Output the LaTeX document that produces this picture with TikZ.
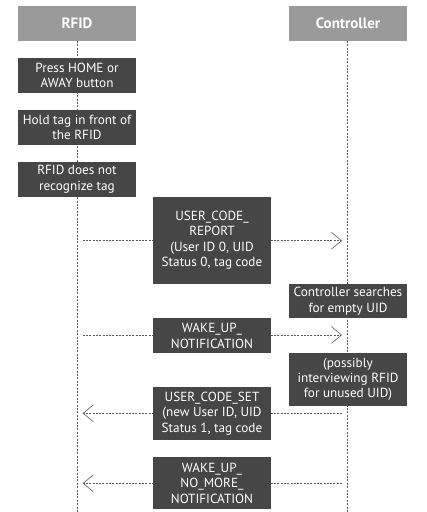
\documentclass[tikz,border=0pt]{standalone}
\usepackage{fontspec}
\setmainfont{PT Sans}
\usetikzlibrary{arrows.meta,positioning}

\definecolor{headgray}{HTML}{9A9A9A}
\definecolor{boxgray}{HTML}{464646}
\definecolor{linegray}{HTML}{5A5A5A}

\begin{document}
\begin{tikzpicture}[x=1pt,y=-1pt,
    head/.style={fill=headgray,text=white,minimum width=118pt,minimum height=34.7pt,
                 inner sep=0pt,font=\fontsize{15}{16}\selectfont\bfseries},
    act/.style={fill=boxgray,text=white,minimum width=118pt,inner sep=0pt,
                align=center,font=\fontsize{13.2}{15.4}\selectfont},
    life/.style={draw=linegray,line width=0.6pt,dash pattern=on 2pt off 1.4pt},
    msg/.style={draw=linegray,line width=0.6pt,dash pattern=on 2pt off 1.3pt,
                -{Straight Barb[length=10pt,width=16.6pt,line width=0.6pt,line cap=butt]}}]

  \useasboundingbox (0,0) rectangle (427,512);

  % lanes
  \node[head] (rfid) at (77,23.3)  {RFID};
  \node[head] (ctrl) at (348,23.3) {Controller};
  \coordinate (rfidend) at (77.3,512);
  \coordinate (ctrlend) at (347.3,512);
  \draw[life] (rfid.south -| rfidend) -- (rfidend);
  \draw[life] (ctrl.south -| ctrlend) -- (ctrlend);

  % messages
  \coordinate (r1) at (82.7,240.7);  \coordinate (c1) at (342,240.7);
  \coordinate (r2) at (82.7,335);    \coordinate (c2) at (342,335);
  \coordinate (r3) at (82.7,413.3);  \coordinate (c3) at (342,413.3);
  \coordinate (r4) at (82.7,483.3);  \coordinate (c4) at (342,483.3);
  \path (r1) edge[msg] (c1)
        (r2) edge[msg] (c2)
        (c3) edge[msg] (r3)
        (c4) edge[msg] (r4);

  % boxes
  \node[act,minimum height=34.7pt] (press)  at (77,75.3)   {Press HOME or\\AWAY button};
  \node[act,minimum height=34.7pt] (hold)   at (77,127.3)  {Hold tag in front of\\the RFID};
  \node[act,minimum height=34.7pt] (norec)  at (77,179.3)  {RFID does not\\recognize tag};
  \node[act,minimum height=86.7pt] (report) at (212,240.3) {USER\_CODE\_\\REPORT\\(User ID 0, UID\\Status 0, tag code};
  \node[act,minimum height=34pt]   (search) at (348,301.3) {Controller searches\\for empty UID};
  \node[act,minimum height=34.7pt] (wake)   at (212,335.7) {WAKE\_UP\_\\NOTIFICATION};
  \node[act,minimum height=52.7pt] (interv) at (348,379.3) {(possibly\\interviewing RFID\\for unused UID)};
  \node[act,minimum height=52.7pt] (set)    at (212,413.3) {USER\_CODE\_SET\\(new User ID, UID\\Status 1, tag code};
  \node[act,minimum height=52pt]   (nomore) at (212,483)   {WAKE\_UP\_\\NO\_MORE\_\\NOTIFICATION};
\end{tikzpicture}
\end{document}
